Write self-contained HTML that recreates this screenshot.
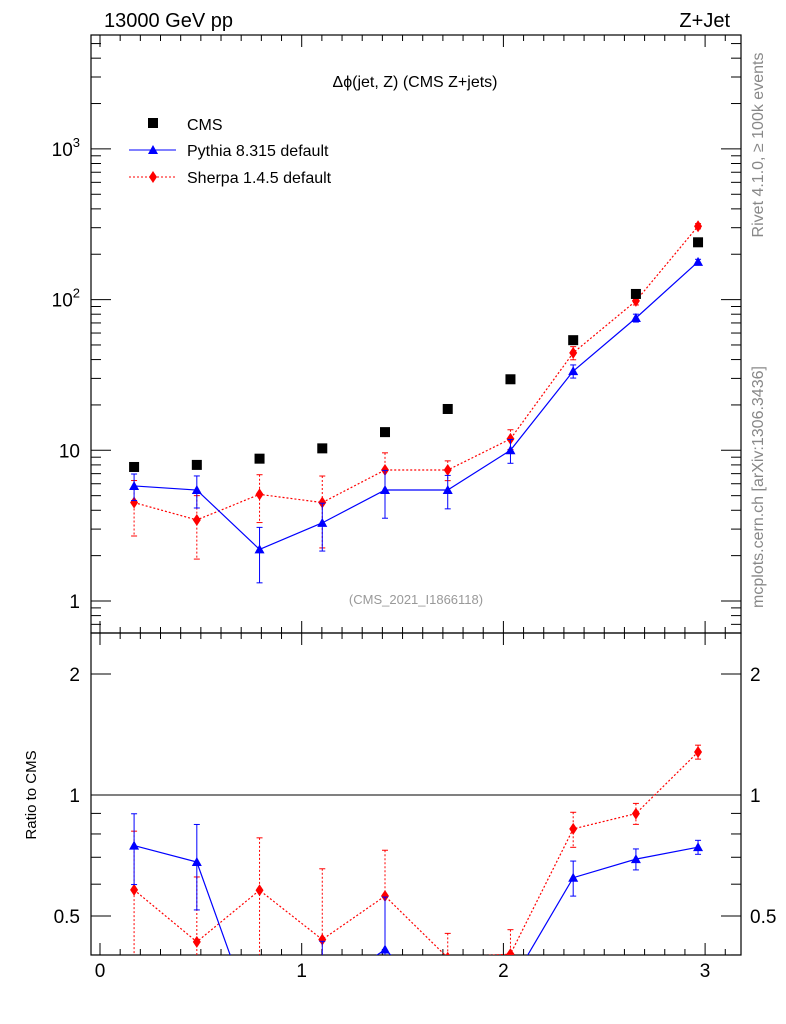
<!DOCTYPE html>
<html><head><meta charset="utf-8"><style>
html,body{margin:0;background:#fff;overflow:hidden;width:786px;height:1024px}
svg{display:block}
svg text{font-family:"Liberation Sans",sans-serif}
</style></head><body>
<svg id="c" width="786" height="1024" xmlns="http://www.w3.org/2000/svg"></svg>
<script>
const binCenters=[0.169,0.480,0.791,1.102,1.413,1.724,2.035,2.346,2.657,2.965];
const cmsValues=[7.75,8.0,8.8,10.3,13.2,18.8,29.6,53.8,109,240];
const pythiaValues=[5.8,5.45,2.2,3.3,5.45,5.45,10,33.5,75.5,178];
const pythiaRelErr=[0.2,0.24,0.4,0.35,0.35,0.25,0.18,0.1,0.06,0.04];
const sherpaValues=[4.5,3.45,5.1,4.5,7.4,7.4,11.9,44.3,98,307];
const sherpaRelErr=[0.4,0.45,0.35,0.5,0.3,0.15,0.15,0.1,0.06,0.04];
const xTicks=[0,1,2,3];
const yTicks=[1,10,100,1000];
const ratioTicks=[0.5,1,2];

const NS="http://www.w3.org/2000/svg";
const svg=document.getElementById('c');
function el(t,a,txt,p){const e=document.createElementNS(NS,t);for(const k in a)e.setAttribute(k,a[k]);if(txt!==undefined)e.textContent=txt;(p||svg).appendChild(e);return e;}
const L=91,R=741,T=35,B1=633,B2=955;
const X=v=>100+v*201.7;
const Y=v=>601-Math.log10(v)*150.7;
const YR=v=>795-Math.log10(v)*402;

let f1=el('rect',{x:L,y:T,width:R-L,height:B1-T,fill:'none',stroke:'#000','stroke-width':1.2});

let f2=el('rect',{x:L,y:B1,width:R-L,height:B2-B1,fill:'none',stroke:'#000','stroke-width':1.2});


for(let i=0;i<=32;i++){const v=i/10,x=X(v);if(x<L||x>R)continue;const maj=i%10===0,len=maj?12:6;
 for(const [y0,d] of [[T,1],[B1,-1],[B1,1],[B2,-1]]) el('line',{x1:x,y1:y0,x2:x,y2:y0+d*len,stroke:'#000'});}
xTicks.forEach(v=>{const t=el('text',{x:X(v),y:977,'font-size':19,'text-anchor':'middle'},String(v));});
for(let d=-1;d<=3;d++)for(let m=1;m<=9;m++){const v=m*Math.pow(10,d),y=Y(v);if(y<T||y>B1)continue;const len=m===1?20:10;
 el('line',{x1:L,y1:y,x2:L+len,y2:y,stroke:'#000'});el('line',{x1:R,y1:y,x2:R-len,y2:y,stroke:'#000'});}
yTicks.forEach(v=>{const y=Y(v);let t;if(v<100){t=el('text',{x:80,y:y+7,'font-size':19,'text-anchor':'end'},String(v));}
 else{t=el('text',{x:80,y:y+7,'font-size':19,'text-anchor':'end'});el('tspan',{},'10',t);el('tspan',{dy:-9,'font-size':13},String(Math.round(Math.log10(v))),t);}
 });
for(const v of [0.4,0.5,0.6,0.7,0.8,0.9,1,2]){const y=YR(v);if(y<B1||y>B2)continue;const len=(v===0.5||v===1||v===2)?20:10;
 el('line',{x1:L,y1:y,x2:L+len,y2:y,stroke:'#000'});el('line',{x1:R,y1:y,x2:R-len,y2:y,stroke:'#000'});}
ratioTicks.forEach(v=>{const y=YR(v);const s=String(v);
 let t=el('text',{x:80,y:y+7,'font-size':19,'text-anchor':'end'},s);
 let t2=el('text',{x:750,y:y+7,'font-size':19},s);});
el('line',{x1:L,y1:YR(1),x2:R,y2:YR(1),stroke:'#000'});

const defs=el('defs',{});
const c1=el('clipPath',{id:'cm'},undefined,defs);el('rect',{x:L,y:T,width:R-L,height:B1-T},undefined,c1);
const c2=el('clipPath',{id:'cr'},undefined,defs);el('rect',{x:L,y:B1,width:R-L,height:B2-B1},undefined,c2);
const gm=el('g',{'clip-path':'url(#cm)'});const gr=el('g',{'clip-path':'url(#cr)'});

function series(vals,rel,color,dash,marker,g,yf,name,ratio){
 const pts=binCenters.map((x,i)=>[X(x),yf(ratio?vals[i]/cmsValues[i]:vals[i])]);
 const pl=el('polyline',{points:pts.map(p=>p.join(',')).join(' '),fill:'none',stroke:color,'stroke-width':1.2,'stroke-dasharray':dash},undefined,g);
 
 binCenters.forEach((x,i)=>{const v=ratio?vals[i]/cmsValues[i]:vals[i];const px=X(x);
  const y1=yf(v*(1+rel[i])),y2=yf(v*(1-rel[i]));
  el('line',{x1:px,y1:y1,x2:px,y2:y2,stroke:color,'stroke-dasharray':dash},undefined,g);
  el('line',{x1:px-3,y1:y1,x2:px+3,y2:y1,stroke:color},undefined,g);el('line',{x1:px-3,y1:y2,x2:px+3,y2:y2,stroke:color},undefined,g);
  const py=yf(v);let m;
  if(marker==='tri')m=el('polygon',{points:`${px-5},${py+4} ${px+5},${py+4} ${px},${py-5}`,fill:color},undefined,g);
  else m=el('polygon',{points:`${px},${py-6} ${px+4},${py} ${px},${py+6} ${px-4},${py}`,fill:color},undefined,g);
  });
}
series(sherpaValues,sherpaRelErr,'#f00','2,2','dia',gm,Y,'sherpa',false);
series(pythiaValues,pythiaRelErr,'#00f','','tri',gm,Y,'pythia',false);
binCenters.forEach((x,i)=>{const r=el('rect',{x:X(x)-5,y:Y(cmsValues[i])-5,width:10,height:10,fill:'#000'},undefined,gm);
 });
series(sherpaValues,sherpaRelErr,'#f00','2,2','dia',gr,YR,'sherpa-ratio',true);
series(pythiaValues,pythiaRelErr,'#00f','','tri',gr,YR,'pythia-ratio',true);

function tx(a,s,n){const t=el('text',a,s);return t;}
tx({x:104,y:27,'font-size':20},'13000 GeV pp','energy-label');
tx({x:730,y:27,'font-size':20,'text-anchor':'end'},'Z+Jet','process-label');
tx({x:415,y:87,'font-size':16,'text-anchor':'middle'},'Δϕ(jet, Z) (CMS Z+jets)','plot-title');
tx({x:416,y:604,'font-size':13,'text-anchor':'middle',fill:'#999'},'(CMS_2021_I1866118)','analysis-id');
tx({x:0,y:0,'font-size':16,'text-anchor':'middle',transform:'translate(763,145) rotate(-90)',fill:'#888'},'Rivet 4.1.0, ≥ 100k events','rivet-label');
tx({x:0,y:0,'font-size':16,'text-anchor':'middle',transform:'translate(763,487) rotate(-90)',fill:'#888'},'mcplots.cern.ch [arXiv:1306.3436]','mcplots-label');
tx({x:0,y:0,'font-size':15,'text-anchor':'middle',transform:'translate(36,795) rotate(-90)'},'Ratio to CMS','ratio-axis-title');
const lg=el('g',{});
el('rect',{x:148,y:118,width:10,height:10,fill:'#000'},undefined,lg);
el('text',{x:187,y:130,'font-size':16},'CMS',lg);
el('line',{x1:129,y1:150,x2:176,y2:150,stroke:'#00f'},undefined,lg);
el('polygon',{points:'148,154 158,154 153,145',fill:'#00f'},undefined,lg);
el('text',{x:187,y:156,'font-size':16},'Pythia 8.315 default',lg);
el('line',{x1:129,y1:177,x2:176,y2:177,stroke:'#f00','stroke-dasharray':'2,2'},undefined,lg);
el('polygon',{points:'153,171 157,177 153,183 149,177',fill:'#f00'},undefined,lg);
el('text',{x:187,y:183,'font-size':16},'Sherpa 1.4.5 default',lg);
</script>
</body></html>
